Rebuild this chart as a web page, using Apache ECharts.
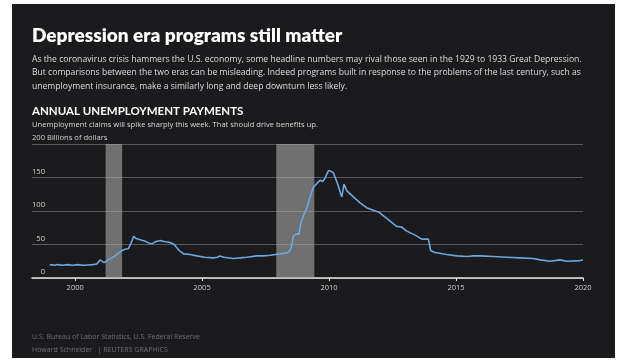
<!DOCTYPE html>
<html>
<head>
<meta charset="utf-8">
<script src="https://cdn.jsdelivr.net/npm/echarts@6/dist/echarts.min.js"></script>
<style>
  html, body { margin: 0; padding: 0; background: #ffffff; }
  #chart { position: absolute; left: 12px; top: 4px; width: 603px; height: 354px; }
</style>
</head>
<body>
<div id="chart"></div>
<script>
(function () {
    'use strict';

    // decimal years and billions of dollars
    var years = [
        1999.0, 1999.2, 1999.3, 1999.5, 1999.7, 1999.9, 2000.1, 2000.3, 2000.5, 2000.7,
        2000.85, 2000.98, 2001.14, 2001.3, 2001.45, 2001.57, 2001.67, 2001.84, 2001.97, 2002.1,
        2002.2, 2002.3, 2002.4, 2002.56, 2002.76, 2002.9, 2003.02, 2003.15, 2003.35, 2003.54,
        2003.74, 2003.9, 2004.07, 2004.27, 2004.53, 2004.79, 2005.1, 2005.44, 2005.6, 2005.7,
        2005.85, 2006.23, 2006.5, 2006.76, 2007.15, 2007.4, 2007.68, 2008.07, 2008.4, 2008.5,
        2008.6, 2008.7, 2008.81, 2008.89, 2008.99, 2009.12, 2009.25, 2009.38, 2009.54, 2009.65,
        2009.75, 2009.84, 2009.97, 2010.05, 2010.17, 2010.33, 2010.5, 2010.59, 2010.7, 2010.96,
        2011.22, 2011.48, 2011.74, 2011.97, 2012.27, 2012.66, 2012.86, 2013.06, 2013.39, 2013.65,
        2013.91, 2013.95, 2014.0, 2014.17, 2014.63, 2015.03, 2015.42, 2015.7, 2015.94, 2016.47,
        2016.99, 2017.52, 2018.04, 2018.31, 2018.7, 2019.09, 2019.36, 2019.88, 2020.0
    ];
    var payments = [
        20, 19, 20, 19, 20, 19, 20, 19, 19.5, 20,
        21, 27, 23, 27, 30, 33, 36, 41, 43, 44,
        52, 62, 59, 57, 55, 52, 51, 54, 56, 54,
        53, 50, 42, 36, 35, 33, 31, 30, 31, 33,
        31, 29, 30, 31, 33, 33, 34, 36, 38, 44,
        63, 66, 65, 82, 93, 104, 121, 135, 142, 146,
        144, 149, 160, 160, 157, 141, 121, 140, 130, 121,
        112, 105, 101, 98, 89, 77, 76, 70, 64, 58,
        58, 59, 41, 38, 35, 33, 32, 33, 33, 32,
        31, 30, 29, 27, 25, 27, 25, 26, 27
    ];

    var recessionStart = [2001.2, 2007.92];
    var recessionEnd = [2001.85, 2009.42];

    var yearTicks = [2000, 2005, 2010, 2015, 2020];
    var valueTicks = [0, 50, 100, 150, 200];

    var title = 'Depression era programs still matter';
    var intro = [
        'As the coronavirus crisis hammers the U.S. economy, some headline numbers may rival those seen in the 1929 to 1933 Great Depression.',
        'But comparisons between the two eras can be misleading. Indeed programs built in response to the problems of the last century, such as',
        'unemployment insurance, make a similarly long and deep downturn less likely.'
    ];
    var chartTitle = 'ANNUAL UNEMPLOYMENT PAYMENTS';
    var chartSub = 'Unemployment claims will spike sharply this week. That should drive benefits up.';
    var sourceLines = [
        'U.S. Bureau of Labor Statistics, U.S. Federal Reserve',
        'Howard Schneider   | REUTERS GRAPHICS'
    ];

    var FONT = '"Open Sans", "Noto Sans", sans-serif';

    var chart = echarts.init(document.getElementById('chart'));

    var points = years.map(function (y, i) { return [y, payments[i]]; });
    var bands = recessionStart.map(function (s, i) {
        return [{ xAxis: s }, { xAxis: recessionEnd[i] }];
    });

    chart.setOption({
        backgroundColor: '#1b1a1d',
        animation: false,
        title: [
            {
                text: title, left: 20, top: 22, padding: 0,
                textStyle: { color: '#ffffff', fontSize: 19, fontWeight: 800, fontFamily: 'Lato, sans-serif' }
            },
            {
                text: intro.join('\n'), left: 20, top: 48.5, padding: 0,
                textStyle: { color: '#dddddd', fontSize: 8.6, fontWeight: 'normal', lineHeight: 13.5, fontFamily: FONT }
            },
            {
                text: chartTitle, left: 20, top: 101, padding: 0,
                textStyle: { color: '#ffffff', fontSize: 11.5, fontWeight: 'bold', fontFamily: 'Lato, sans-serif' }
            },
            {
                text: chartSub, left: 20, top: 116.5, padding: 0,
                textStyle: { color: '#d8d8d8', fontSize: 7.6, fontWeight: 'normal', fontFamily: FONT }
            },
            {
                text: sourceLines.join('\n'), left: 20, top: 326.5, padding: 0,
                textStyle: { color: '#6f6f73', fontSize: 7, fontWeight: 'normal', lineHeight: 13, fontFamily: FONT }
            }
        ],
        grid: { left: 20, right: 32, top: 140, bottom: 80 },
        xAxis: {
            type: 'value',
            min: 1998.3,
            max: 2020,
            splitLine: { show: false },
            axisLine: { show: true, lineStyle: { color: '#e6e6e6', width: 1.5 } },
            axisTick: { show: true, customValues: yearTicks, length: 3, lineStyle: { color: '#e6e6e6' } },
            axisLabel: {
                customValues: yearTicks, color: '#cfcfcf', fontSize: 7.5, margin: 6,
                fontFamily: FONT,
                formatter: function (v) { return String(v); }
            }
        },
        yAxis: {
            type: 'value',
            min: 0,
            max: 200,
            interval: 50,
            axisLine: { show: false },
            axisTick: { show: false },
            splitLine: { lineStyle: { color: '#59585b', width: 1 } },
            axisLabel: {
                inside: true,
                margin: 0,
                align: 'left',
                verticalAlign: 'bottom',
                padding: [0, 0, 2, 0],
                color: '#cfcfcf',
                fontSize: 7.6,
                fontFamily: FONT,
                formatter: function (v) {
                    if (valueTicks.indexOf(v) < 0) return '';
                    return '{n|' + v + '}' + (v === 200 ? ' Billions of dollars' : '');
                },
                rich: {
                    n: { width: 13, align: 'right', color: '#cfcfcf', fontSize: 7.6, fontFamily: FONT }
                }
            }
        },
        series: [
            {
                type: 'line',
                data: points,
                showSymbol: false,
                lineStyle: { color: '#6ea7dc', width: 1.6 },
                z: 3,
                markArea: {
                    silent: true,
                    itemStyle: { color: 'rgba(170,170,170,0.6)' },
                    data: bands
                }
            }
        ]
    });
})();
</script>
</body>
</html>
